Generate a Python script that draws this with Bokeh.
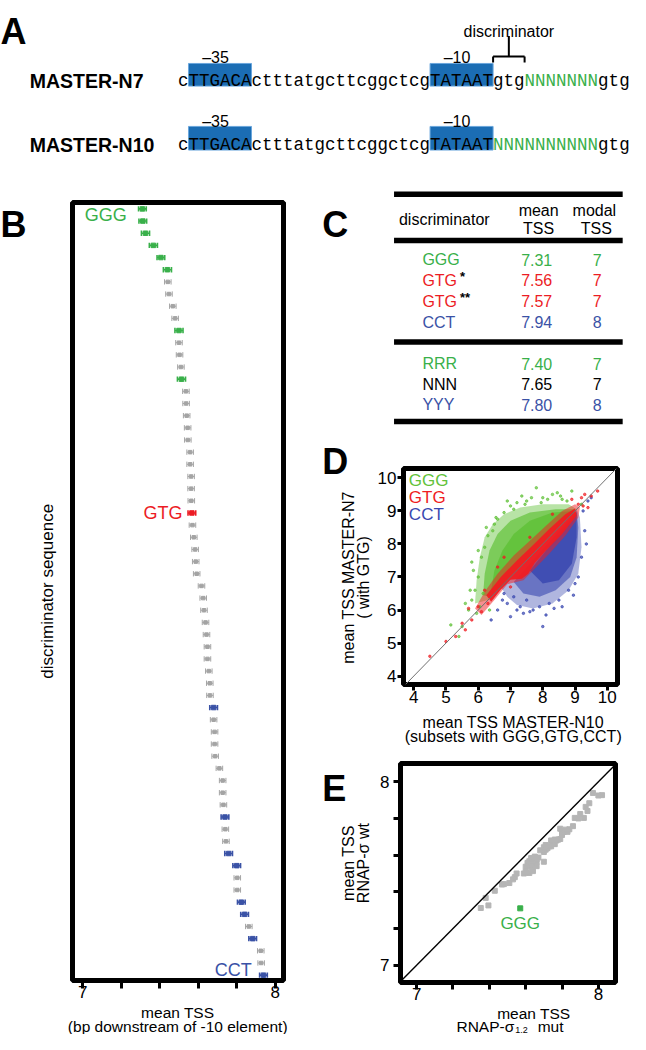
import math
from bokeh.plotting import figure
from bokeh.layouts import column, row
from bokeh.models import Range1d, Label, FixedTicker, Slope, ColumnDataSource
from bokeh.core.properties import value
from bokeh.embed import file_html
from bokeh.resources import INLINE

FONT = "Liberation Sans"
MONO = "Liberation Mono"
GREEN = "#39b04a"
RED = "#ec1c24"
BLUE = "#3a52a6"
GREY = "#a4a4a4"
BOXBLUE = "#1b6db4"
D_GREEN = "#62c23a"
D_RED = "#ef1d22"
D_BLUE = "#3a48b0"

# ---------------- data ----------------
# Panel A: promoter sequences
n7_parts = ["c", "TTGACA", "ctttatgcttcggctcg", "TATAAT", "gtg", "NNNNNNN", "gtg"]
n7_kinds = ["seq", "box", "seq", "box", "seq", "rand", "seq"]
n10_parts = ["c", "TTGACA", "ctttatgcttcggctcg", "TATAAT", "NNNNNNNNNN", "gtg"]
n10_kinds = ["seq", "box", "seq", "box", "rand", "seq"]
box_names = ["\u201335", "\u201310"]

# Panel B: mean TSS of 64 discriminator sequences (sorted)
b_mean = [7.310, 7.312, 7.326, 7.367, 7.406, 7.440, 7.442, 7.448, 7.468, 7.480,
          7.500, 7.500, 7.503, 7.510, 7.513, 7.536, 7.537, 7.540, 7.545, 7.546,
          7.558, 7.558, 7.563, 7.563, 7.564, 7.567, 7.570, 7.577, 7.584, 7.587,
          7.592, 7.617, 7.626, 7.630, 7.638, 7.643, 7.648, 7.648, 7.655, 7.660,
          7.661, 7.680, 7.680, 7.685, 7.685, 7.688, 7.710, 7.727, 7.727, 7.731,
          7.739, 7.741, 7.744, 7.758, 7.800, 7.803, 7.803, 7.824, 7.841, 7.863,
          7.883, 7.925, 7.927, 7.939]
b_err = [0.020, 0.020, 0.021, 0.021, 0.020, 0.021, 0.017, 0.017, 0.017, 0.017,
         0.021, 0.017, 0.017, 0.017, 0.021, 0.017, 0.017, 0.017, 0.017, 0.017,
         0.017, 0.017, 0.017, 0.017, 0.017, 0.020, 0.017, 0.017, 0.017, 0.017,
         0.017, 0.017, 0.017, 0.017, 0.017, 0.017, 0.017, 0.017, 0.017, 0.017,
         0.017, 0.020, 0.017, 0.017, 0.017, 0.017, 0.017, 0.017, 0.017, 0.017,
         0.020, 0.017, 0.017, 0.020, 0.020, 0.017, 0.017, 0.020, 0.020, 0.017,
         0.020, 0.017, 0.017, 0.020]
b_group = list("RRRRRR" "NNNN" "R" "NNN" "R" "NNNNNNNNNN" "G" "NNNNNNNNNNNNNNN"
               "Y" "NNNNNNNN" "Y" "NN" "YY" "NN" "YY" "N" "Y" "NN" "Y")

# Panel C: table
c_disc = ["GGG", "GTG", "GTG", "CCT", "RRR", "NNN", "YYY"]
c_mark = ["", "*", "**", "", "", "", ""]
c_mean = ["7.31", "7.56", "7.57", "7.94", "7.40", "7.65", "7.80"]
c_modal = ["7", "7", "7", "8", "7", "7", "8"]
c_colors = [GREEN, RED, RED, BLUE, GREEN, "black", BLUE]

# Panel D: density outlines (halo / mid / core) and sparse points
d_green_halo_x = [5.9, 5.95, 6.05, 6.2, 6.45, 6.8, 7.3, 8.0, 8.8, 9.05, 6.3]
d_green_halo_y = [6.2, 6.9, 7.6, 8.2, 8.6, 8.9, 9.1, 9.2, 9.2, 9.05, 6.3]
d_green_mid_x = [6.15, 6.2, 6.35, 6.6, 7.0, 7.6, 8.4, 9.0, 6.4]
d_green_mid_y = [6.45, 7.1, 7.8, 8.3, 8.7, 8.95, 9.05, 9.05, 6.4]
d_green_core_x = [6.4, 6.5, 6.75, 7.1, 7.6, 8.3, 9.0, 6.6]
d_green_core_y = [6.6, 7.2, 7.8, 8.3, 8.7, 8.95, 9.0, 6.6]
d_blue_halo_x = [6.7, 6.9, 7.2, 7.7, 8.3, 8.8, 9.1, 9.2, 9.15, 9.05]
d_blue_halo_y = [6.7, 6.4, 6.15, 6.05, 6.2, 6.6, 7.1, 7.9, 8.8, 9.05]
d_blue_mid_x = [7.1, 7.4, 7.9, 8.4, 8.85, 9.05, 9.1, 9.05]
d_blue_mid_y = [6.85, 6.5, 6.4, 6.6, 7.0, 7.6, 8.5, 9.0]
d_blue_core_x = [7.6, 8.0, 8.5, 8.9, 9.05, 9.05]
d_blue_core_y = [7.2, 6.8, 6.9, 7.4, 8.2, 8.95]
d_red_halo_x = [5.9, 6.2, 6.6, 7.1, 7.6, 8.1, 8.6, 9.0, 9.15, 9.1, 8.7, 8.2, 7.8, 7.4, 6.9, 6.5, 6.1]
d_red_halo_y = [6.05, 6.55, 7.1, 7.65, 8.1, 8.55, 9.0, 9.2, 9.1, 8.8, 8.25, 7.7, 7.3, 6.9, 6.78, 6.3, 5.85]
d_red_core_x = [6.25, 6.7, 7.2, 7.7, 8.2, 8.7, 9.0, 9.05, 8.6, 8.1, 7.75, 7.55, 7.35, 7.0, 6.7, 6.4]
d_red_core_y = [6.45, 7.0, 7.5, 7.97, 8.45, 8.9, 9.07, 8.85, 8.3, 7.8, 7.42, 7.1, 6.95, 6.92, 6.62, 6.25]
d_green_pts_x = [5.15, 5.5, 5.7, 5.8, 5.9, 5.95, 5.85, 6.0, 6.05, 6.1, 6.2, 6.3, 6.35, 6.5, 6.6, 6.8,
                 7.0, 7.2, 7.5, 7.8, 8.0, 8.3, 8.6, 8.9, 9.2, 5.6, 6.15, 6.45, 7.35, 7.95, 8.45,
                 6.9, 5.75, 6.25, 7.65, 8.15, 8.75, 6.0, 5.4, 7.1, 5.8, 6.55, 7.45, 8.55]
d_green_pts_y = [5.55, 5.5, 6.0, 6.3, 6.6, 5.9, 7.2, 7.0, 6.1, 7.6, 7.9, 8.25, 6.0, 8.6, 8.75, 8.95,
                 9.15, 9.25, 9.3, 9.7, 9.4, 9.5, 9.35, 9.6, 9.2, 6.2, 6.5, 8.4, 9.45, 9.25, 9.55,
                 9.3, 6.6, 8.5, 9.4, 9.35, 9.3, 7.8, 5.2, 9.05, 7.45, 8.8, 9.2, 9.45]
d_red_pts_x = [4.5, 5.0, 5.3, 5.5, 5.8, 6.0, 6.1, 6.3, 9.1, 9.2, 9.3, 9.5, 9.7, 6.6, 7.0, 8.3,
               7.6, 9.4, 5.6, 6.8, 8.9, 9.25, 5.7, 6.2]
d_red_pts_y = [4.6, 5.05, 5.2, 5.6, 5.7, 6.1, 5.95, 6.2, 9.2, 9.4, 9.5, 9.45, 9.6, 7.3, 6.7, 8.9,
               8.2, 9.1, 5.4, 7.6, 9.35, 9.15, 6.05, 6.6]
d_blue_pts_x = [6.6, 6.9, 7.0, 7.2, 7.4, 7.5, 7.7, 8.0, 8.2, 8.5, 8.8, 9.1, 9.2, 9.3, 9.25, 6.8,
                7.1, 7.9, 8.6, 9.0, 6.4, 7.6, 9.4, 9.5, 8.1, 7.3, 8.35, 8.95, 9.35, 6.75]
d_blue_pts_y = [6.0, 6.2, 5.8, 6.0, 5.9, 6.3, 6.0, 5.5, 6.2, 6.3, 6.6, 7.0, 7.6, 8.4, 9.0, 6.5,
                6.4, 6.1, 6.1, 6.8, 5.7, 5.95, 9.3, 9.4, 5.85, 6.1, 6.05, 6.45, 8.0, 6.3]

# Panel E: wt (same as panel B) vs sigma 1.2 mutant
e_mut = [7.570, 7.353, 7.395, 7.380, 7.430, 7.470, 7.480, 7.510, 7.530, 7.540,
         7.550, 7.590, 7.620, 7.600, 7.640, 7.630, 7.600, 7.660, 7.620, 7.650,
         7.610, 7.640, 7.630, 7.660, 7.700, 7.620, 7.640, 7.660, 7.630, 7.670,
         7.650, 7.700, 7.680, 7.710, 7.720, 7.700, 7.730, 7.740, 7.710, 7.760,
         7.750, 7.770, 7.740, 7.780, 7.760, 7.790, 7.800, 7.810, 7.830, 7.800,
         7.820, 7.840, 7.790, 7.860, 7.890, 7.870, 7.920, 7.900, 7.940, 7.930,
         7.950, 8.000, 8.020, 7.970]

# ---------------- layout helpers (reference px -> page px) ----------------
SX = 630 / 646
SY = 1034 / 1050
X = lambda r: round(r * SX)
Y = lambda r: round(r * SY)


def no_align(p):
    try:
        p.frame_align = False
    except Exception:
        pass


def canvas(xr, yr):
    """Axis-less figure whose data coordinates are reference pixels (y downwards)."""
    p = figure(width=X(xr[1]) - X(xr[0]), height=Y(yr[1]) - Y(yr[0]),
               x_range=Range1d(xr[0], xr[1]), y_range=Range1d(yr[1], yr[0]),
               x_axis_location=None, y_axis_location=None, min_border=0,
               output_backend="svg", toolbar_location=None)
    p.grid.visible = False
    p.outline_line_color = None
    no_align(p)
    return p


def ctext(p, x, y, text, size="16px", color="black", align="center", baseline="middle",
          angle=0.0, bold=False, font=FONT):
    p.text(x=[x], y=[y], text=[text], text_font=value(font), text_font_size=value(size),
           text_color=color, text_align=align, text_baseline=baseline, angle=angle,
           text_font_style="bold" if bold else "normal")


def lab(p, x, y, text, size="16px", color="black", align="center", baseline="middle"):
    p.add_layout(Label(x=x, y=y, text=text, text_font=FONT, text_font_size=size,
                       text_color=color, text_align=align, text_baseline=baseline))


def style_axis(ax, ticks, minor=None, size="17px", out=8, standoff=3):
    ax.ticker = FixedTicker(ticks=ticks, minor_ticks=minor or [])
    ax.axis_line_color = None
    ax.major_tick_line_width = 3
    ax.major_tick_out = out
    ax.major_tick_in = 0
    ax.minor_tick_line_width = 3
    ax.minor_tick_out = out
    ax.minor_tick_in = 0
    ax.major_label_text_font = FONT
    ax.major_label_text_font_size = size
    ax.major_label_text_color = "black"
    ax.major_label_standoff = standoff


def framed(panel, frame, fx, fy, **kw):
    """panel / frame as (left, right, top, bottom) in reference px."""
    pl, pr, pt, pb = panel
    fl, fr, ft, fb = frame
    w = X(pr) - X(pl)
    h = Y(pb) - Y(pt)
    bl = round((fl - pl) * SX)
    br = w - bl - round((fr - fl) * SX)
    bt = round((ft - pt) * SY)
    bb = h - bt - round((fb - ft) * SY)
    p = figure(width=w, height=h, x_range=Range1d(fx(fl), fx(fr)),
               y_range=Range1d(fy(fb), fy(ft)), min_border_left=bl, min_border_right=br,
               min_border_top=bt, min_border_bottom=bb, output_backend="svg",
               toolbar_location=None, **kw)
    p.grid.visible = False
    p.outline_line_color = "black"
    p.outline_line_width = 5
    no_align(p)
    return p


# ---------------- Panel A ----------------
pA = canvas((0, 646), (0, 185))
ctext(pA, 0, 32, "A", size="36px", align="left", baseline="alphabetic", bold=True)
CW = 10.77
SEQ_X0 = 182


def draw_seq(p, parts, kinds, base, box_top, box_bot, num_base):
    pos = 0
    xs, cols, boxes = [], [], []
    for part, kind in zip(parts, kinds):
        x = SEQ_X0 + pos * CW
        xs.append(x)
        cols.append(GREEN if kind == "rand" else "black")
        if kind == "box":
            boxes.append((x, x + len(part) * CW))
        pos += len(part)
    p.quad(left=[b[0] for b in boxes], right=[b[1] for b in boxes],
           top=[box_top] * len(boxes), bottom=[box_bot] * len(boxes),
           fill_color=BOXBLUE, line_color="#6aa6dc", line_width=1)
    p.text(x=xs, y=[base] * len(xs), text=list(parts), text_color=cols,
           text_font=value(MONO), text_font_size=value("17.5px"),
           text_baseline="alphabetic", text_align="left")
    for (bl, br), name in zip(boxes, box_names):
        ctext(p, bl + 14, num_base, name, size="16px", align="left", baseline="alphabetic")
    return boxes


ctext(pA, 30, 82, "MASTER-N7", size="19.5px", align="left", baseline="alphabetic", bold=True)
ctext(pA, 30, 147, "MASTER-N10", size="19.5px", align="left", baseline="alphabetic", bold=True)
boxes7 = draw_seq(pA, n7_parts, n7_kinds, 82, 64, 87, 58)
draw_seq(pA, n10_parts, n10_kinds, 146.5, 128, 152, 122.5)
d0 = boxes7[1][1]
d1 = d0 + 3 * CW
dm = (d0 + d1) / 2
pA.segment(x0=[d0, d0, d1, dm], y0=[57, 57, 57, 57], x1=[d1, d0, d1, dm], y1=[57, 63, 63, 36],
           line_color="black", line_width=2)
ctext(pA, dm, 32, "discriminator", size="16px", baseline="alphabetic")

# ---------------- Panel B ----------------
dxB = lambda r: 7 + (r - 85) / 197
dyB = lambda r: 1 + (r - 212) / 12.35
stripBL = canvas((0, 62), (185, 1050))
ctext(stripBL, 0, 228, "B", size="36px", align="left", baseline="alphabetic", bold=True)
ctext(stripBL, 49, 600, "discriminator sequence", size="17px", angle=math.pi / 2)

pB = framed((62, 320, 185, 1020), (74.5, 290.5, 205.5, 995.5), dxB, dyB, y_axis_location=None)
style_axis(pB.xaxis[0], [7, 8], [7.2, 7.4, 7.6, 7.8], out=8, standoff=-3)
cmap = {"R": GREEN, "G": RED, "Y": BLUE, "N": GREY}
ys = list(range(1, len(b_mean) + 1))
srcB = ColumnDataSource(dict(
    x=b_mean, y=ys, lo=[m - e for m, e in zip(b_mean, b_err)],
    hi=[m + e for m, e in zip(b_mean, b_err)],
    ylo=[y - 0.22 for y in ys], yhi=[y + 0.22 for y in ys],
    c=[cmap[g] for g in b_group],
    lw=[1.0 if g == "N" else 1.6 for g in b_group],
    s=[3.5 if g == "N" else 4.5 for g in b_group]))
pB.segment(x0="lo", y0="y", x1="hi", y1="y", source=srcB, line_color="c", line_width="lw")
pB.segment(x0="lo", y0="ylo", x1="lo", y1="yhi", source=srcB, line_color="c", line_width="lw")
pB.segment(x0="hi", y0="ylo", x1="hi", y1="yhi", source=srcB, line_color="c", line_width="lw")
pB.scatter(x="x", y="y", source=srcB, marker="square", size="s", fill_color="c", line_color="c")
lab(pB, dxB(130), dyB(218), "GGG", size="18px", color=GREEN, align="right")
lab(pB, dxB(187), dyB(521), "GTG", size="18px", color=RED, align="right")
lab(pB, dxB(258), dyB(985), "CCT", size="18px", color=BLUE, align="right")

stripBB = canvas((62, 320), (1020, 1050))
ctext(stripBB, 182, 1027.5, "mean TSS", size="15.5px")
ctext(stripBB, 182, 1041.5, "(bp downstream of -10 element)", size="15.5px")

# ---------------- right-hand strip (letters C, D, E and y labels) ----------------
stripR = canvas((320, 384), (185, 1050))
ctext(stripR, 330, 228, "C", size="36px", align="left", baseline="alphabetic", bold=True)
ctext(stripR, 330, 468, "D", size="36px", align="left", baseline="alphabetic", bold=True)
ctext(stripR, 330, 800, "E", size="36px", align="left", baseline="alphabetic", bold=True)
ctext(stripR, 357, 586, "mean TSS MASTER-N7", size="16px", angle=math.pi / 2)
ctext(stripR, 373, 586, "( with GTG)", size="16px", angle=math.pi / 2)
ctext(stripR, 357, 876, "mean TSS", size="16px", angle=math.pi / 2)
ctext(stripR, 373, 876, "RNAP-\u03c3 wt", size="16px", angle=math.pi / 2)

# ---------------- Panel C ----------------
pC = canvas((384, 646), (185, 435))
pC.segment(x0=[404] * 4, x1=[638] * 4, y0=[197, 244, 347, 428], y1=[197, 244, 347, 428],
           line_color="black", line_width=5.5)
ctext(pC, 409, 222.5, "discriminator", size="16px", align="left")
pC.text(x=[552, 552, 609, 611], y=[213, 232, 213, 232], text=["mean", "TSS", "modal", "TSS"],
        text_font=value(FONT), text_font_size=value("16px"), text_baseline="middle",
        text_align="center")
row_y = [263.5, 284.5, 305.5, 327, 369, 390, 411]
srcC = ColumnDataSource(dict(y=row_y, d=c_disc, m=c_mean, mo=c_modal, c=c_colors, mk=c_mark,
                             ym=[y - 4 for y in row_y]))
for col, xx, al in (("d", 433, "left"), ("m", 550, "center"), ("mo", 612, "center")):
    pC.text(x=xx, y="y", text=col, source=srcC, text_color="c", text_font=value(FONT),
            text_font_size=value("16px"), text_baseline="middle", text_align=al)
pC.text(x=471.5, y="ym", text="mk", source=srcC, text_color="black", text_font=value(FONT),
        text_font_size=value("13px"), text_font_style="bold", text_baseline="middle",
        text_align="left")

# ---------------- Panel D ----------------
dxD = lambda r: 4 + (r - 423) / 33.17
dyD = lambda r: 4 + (686 - r) / 33.5
pD = framed((384, 646, 435, 720), (412.5, 632.5, 475.5, 694.5), dxD, dyD)
style_axis(pD.xaxis[0], [4, 5, 6, 7, 8, 9, 10], out=6, standoff=0)
style_axis(pD.yaxis[0], [4, 5, 6, 7, 8, 9, 10], out=6, standoff=1)
for xs_, ys_, col, a in ((d_green_halo_x, d_green_halo_y, D_GREEN, 0.45),
                         (d_blue_halo_x, d_blue_halo_y, D_BLUE, 0.4),
                         (d_green_mid_x, d_green_mid_y, D_GREEN, 0.7),
                         (d_blue_mid_x, d_blue_mid_y, D_BLUE, 0.6),
                         (d_green_core_x, d_green_core_y, D_GREEN, 0.9),
                         (d_blue_core_x, d_blue_core_y, D_BLUE, 0.85),
                         (d_red_halo_x, d_red_halo_y, D_RED, 0.5),
                         (d_red_core_x, d_red_core_y, D_RED, 0.95)):
    pD.patch(xs_, ys_, fill_color=col, fill_alpha=a, line_color=None)
pD.scatter(d_green_pts_x, d_green_pts_y, size=2.5, color=D_GREEN, alpha=0.7)
pD.scatter(d_blue_pts_x, d_blue_pts_y, size=2.5, color=D_BLUE, alpha=0.7)
pD.scatter(d_red_pts_x, d_red_pts_y, size=2.5, color=D_RED, alpha=0.7)
pD.add_layout(Slope(gradient=1, y_intercept=0, line_color="#707070", line_width=1))
lab(pD, dxD(418), dyD(488), "GGG", size="17px", color=D_GREEN, align="left")
lab(pD, dxD(418), dyD(505), "GTG", size="17px", color=D_RED, align="left")
lab(pD, dxD(418), dyD(522), "CCT", size="17px", color=D_BLUE, align="left")

stripDB = canvas((384, 646), (720, 758))
ctext(stripDB, 526, 733, "mean TSS MASTER-N10", size="16px")
ctext(stripDB, 526, 748, "(subsets with GGG,GTG,CCT)", size="16px")

# ---------------- Panel E ----------------
dxE = lambda r: 7 + (r - 427) / 186
dyE = lambda r: 8 - (r - 794) / 186
pE = framed((384, 646, 758, 1021), (410.5, 630.5, 775.5, 997.5), dxE, dyE)
style_axis(pE.xaxis[0], [7, 8], [7.2, 7.4, 7.6, 7.8], out=7, standoff=-2)
style_axis(pE.yaxis[0], [7, 8], [7.2, 7.4, 7.6, 7.8], out=7, standoff=4)
pE.add_layout(Slope(gradient=1, y_intercept=0, line_color="black", line_width=1.3))
pE.scatter(e_mut[1:], b_mean[1:], marker="square", size=5, color="#b5b5b5")
pE.scatter(e_mut[:1], b_mean[:1], marker="square", size=5, color=GREEN)
lab(pE, dxE(533), dyE(938), "GGG", size="17px", color=GREEN)

stripEB = canvas((384, 646), (1021, 1050))
ctext(stripEB, 547, 1028.5, "mean TSS", size="15.5px")
ctext(stripEB, 527, 1041.5, "RNAP-\u03c3", size="15.5px", align="right")
ctext(stripEB, 528, 1045.5, "1.2", size="9px", align="left")
ctext(stripEB, 551, 1041.5, "mut", size="15.5px", align="left")

layout = column(pA, row(stripBL, column(pB, stripBB), stripR,
                        column(pC, pD, stripDB, pE, stripEB)))
open("out.html", "w").write(file_html(layout, INLINE))
